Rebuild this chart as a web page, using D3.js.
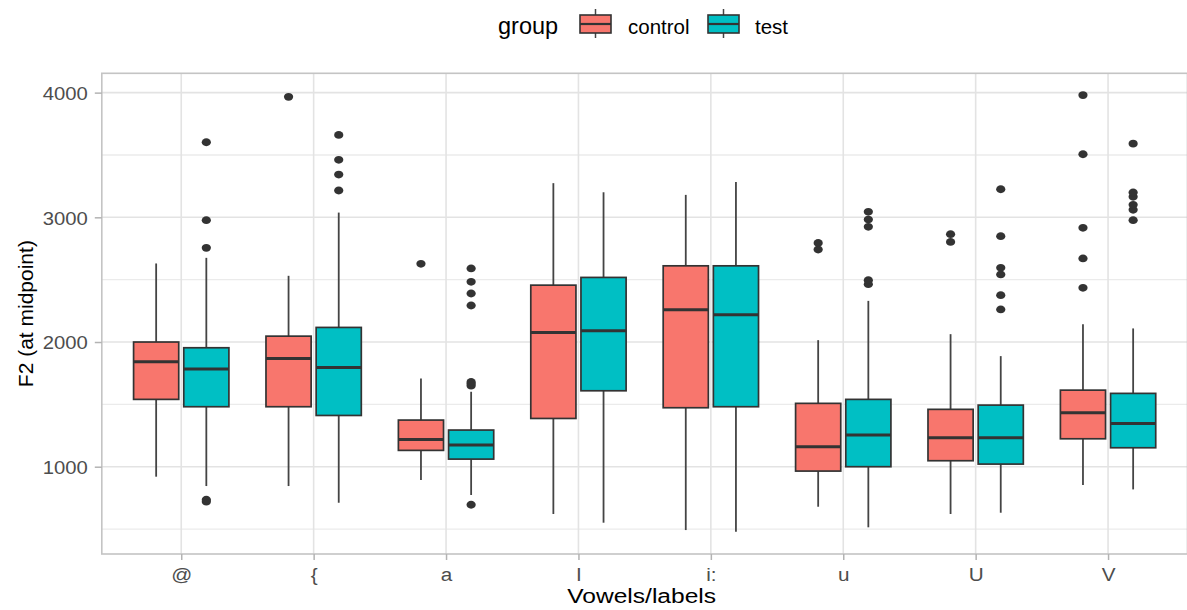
<!DOCTYPE html>
<html>
<head>
<meta charset="utf-8">
<script src="https://cdn.jsdelivr.net/npm/d3@7"></script>
<style>
  body { margin: 0; background: #fff; }
  svg { display: block; font-family: "Liberation Sans", Arial, sans-serif; }
</style>
</head>
<body>
<div id="chart"></div>
<script>
// categories and groups
const vowels = ['@', '{', 'a', 'I', 'i:', 'u', 'U', 'V'];
const groups = ['control', 'test'];
const groupColors = ['#F8766D', '#00BFC4'];

// [lower whisker, q1, median, q3, upper whisker] per vowel
const controlStats = [
  [920, 1540, 1842, 2000, 2630],
  [845, 1481, 1868, 2047, 2531],
  [893, 1131, 1219, 1374, 1708],
  [621, 1387, 2077, 2456, 3274],
  [492, 1473, 2258, 2611, 3180],
  [679, 965, 1160, 1508, 2015],
  [621, 1048, 1232, 1460, 2063],
  [853, 1224, 1433, 1614, 2143]
];
const testStats = [
  [845, 1481, 1783, 1954, 2675],
  [711, 1411, 1796, 2117, 3038],
  [773, 1061, 1174, 1294, 1601],
  [551, 1609, 2090, 2518, 3201],
  [479, 1481, 2218, 2611, 3284],
  [514, 1000, 1254, 1540, 2330],
  [631, 1021, 1232, 1494, 1887],
  [818, 1152, 1347, 1588, 2109]
];

// outliers per vowel
const controlOutliers = [
  [],
  [3966],
  [2627],
  [],
  [],
  [2742, 2795],
  [2803, 2865],
  [2435, 2670, 2916, 3506, 3980]
];
const testOutliers = [
  [720, 735, 2755, 2977, 3602],
  [3215, 3343, 3461, 3661],
  [695, 1650, 1665, 1680, 2293, 2389, 2483, 2590],
  [],
  [],
  [2464, 2496, 2924, 2982, 3044],
  [2261, 2376, 2542, 2595, 2849, 3225],
  [2977, 3060, 3100, 3165, 3200, 3591]
];

const yMajor = [1000, 2000, 3000, 4000];
const yMinor = [500, 1500, 2500, 3500];
const yDomain = [300, 4155];

const width = 1187, height = 610;
const panel = {left: 101.8, right: 1187.5, top: 73.3, bottom: 554};

const svg = d3.select('#chart').append('svg')
  .attr('width', width)
  .attr('height', height);

const x = d3.scalePoint().domain(vowels).range([panel.left, panel.right]).padding(0.6);
const dodge = d3.scaleBand().domain(groups)
  .range([-0.36 * x.step(), 0.36 * x.step()])
  .paddingInner(0.1);
const y = d3.scaleLinear().domain(yDomain).range([panel.bottom, panel.top]);
const color = d3.scaleOrdinal().domain(groups).range(groupColors);

// build rows from the arrays
let boxes = [];
vowels.forEach((v, i) => {
  [controlStats, testStats].forEach((stats, g) => {
    const s = stats[i];
    boxes.push({
      vowel: v,
      group: groups[g],
      lo: s[0], q1: s[1], med: s[2], q3: s[3], hi: s[4],
      out: (g === 0 ? controlOutliers : testOutliers)[i]
    });
  });
});

// grid
const grid = svg.append('g');
grid.selectAll('.minor').data(yMinor).enter().append('line')
  .attr('x1', panel.left).attr('x2', panel.right)
  .attr('y1', d => y(d)).attr('y2', d => y(d))
  .attr('stroke', '#ebebeb').attr('stroke-width', 1.3);
grid.selectAll('.major').data(yMajor).enter().append('line')
  .attr('x1', panel.left).attr('x2', panel.right)
  .attr('y1', d => y(d)).attr('y2', d => y(d))
  .attr('stroke', '#e3e3e3').attr('stroke-width', 1.6);
grid.selectAll('.vmajor').data(vowels).enter().append('line')
  .attr('x1', d => x(d)).attr('x2', d => x(d))
  .attr('y1', panel.top).attr('y2', panel.bottom)
  .attr('stroke', '#e3e3e3').attr('stroke-width', 1.6);

// boxes
const bw = dodge.bandwidth();
const bx = svg.selectAll('.box').data(boxes).enter().append('g')
  .attr('class', 'box')
  .attr('transform', d => 'translate(' + (x(d.vowel) + dodge(d.group)) + ',0)');

bx.append('line')
  .attr('x1', bw / 2).attr('x2', bw / 2)
  .attr('y1', d => y(d.hi)).attr('y2', d => y(d.q3))
  .attr('stroke', '#444').attr('stroke-width', 1.8);
bx.append('line')
  .attr('x1', bw / 2).attr('x2', bw / 2)
  .attr('y1', d => y(d.q1)).attr('y2', d => y(d.lo))
  .attr('stroke', '#444').attr('stroke-width', 1.8);
bx.append('rect')
  .attr('x', 0).attr('width', bw)
  .attr('y', d => y(d.q3))
  .attr('height', d => y(d.q1) - y(d.q3))
  .attr('fill', d => color(d.group))
  .attr('stroke', '#333').attr('stroke-width', 1.7);
bx.append('line')
  .attr('x1', 0).attr('x2', bw)
  .attr('y1', d => y(d.med)).attr('y2', d => y(d.med))
  .attr('stroke', '#333').attr('stroke-width', 3);
bx.selectAll('ellipse').data(d => d.out).enter().append('ellipse')
  .attr('cx', bw / 2)
  .attr('cy', d => y(d))
  .attr('rx', 4.6).attr('ry', 3.9)
  .attr('fill', '#333');

// panel border
svg.append('rect')
  .attr('x', panel.left).attr('y', panel.top)
  .attr('width', panel.right - panel.left)
  .attr('height', panel.bottom - panel.top)
  .attr('fill', 'none')
  .attr('stroke', '#c4c4c4').attr('stroke-width', 1.6);

// y axis
const yAxis = svg.append('g')
  .attr('transform', 'translate(' + panel.left + ',0)')
  .call(d3.axisLeft(y).tickValues(yMajor).tickSize(7).tickPadding(0).tickFormat(d3.format('d')));
yAxis.select('.domain').remove();
yAxis.selectAll('.tick line').attr('stroke', '#b3b3b3').attr('stroke-width', 1.5);
yAxis.selectAll('.tick text').remove();
yAxis.selectAll('.tick').append('g')
  .attr('transform', 'translate(-14,0) scale(1.09,1)')
  .append('text')
  .attr('text-anchor', 'end')
  .attr('dy', '0.36em')
  .attr('fill', '#4d4d4d')
  .style('font-size', '18.6px')
  .text(d => d);

// x axis
const xAxis = svg.append('g')
  .attr('transform', 'translate(0,' + panel.bottom + ')')
  .call(d3.axisBottom(x).tickSize(6).tickPadding(0));
xAxis.select('.domain').remove();
xAxis.selectAll('.tick line').attr('stroke', '#b3b3b3').attr('stroke-width', 1.5);
xAxis.selectAll('.tick text').remove();
xAxis.selectAll('.tick').append('g')
  .attr('transform', 'translate(0,27) scale(1.09,1)')
  .append('text')
  .attr('text-anchor', 'middle')
  .attr('fill', '#4d4d4d')
  .style('font-size', '19px')
  .text(d => d);

// axis titles
svg.append('g')
  .attr('transform', 'translate(' + ((panel.left + panel.right) / 2 - 3) + ',603) scale(1.17,1)')
  .append('text')
  .attr('text-anchor', 'middle')
  .style('font-size', '21px')
  .attr('fill', '#000')
  .text('Vowels/labels');

svg.append('text')
  .attr('transform', 'translate(33,' + ((panel.top + panel.bottom) / 2) + ') rotate(-90)')
  .attr('text-anchor', 'middle')
  .style('font-size', '21px')
  .attr('fill', '#000')
  .text('F2 (at midpoint)');

// legend
const legend = svg.append('g');
legend.append('text')
  .attr('x', 498).attr('y', 34)
  .style('font-size', '23.5px')
  .attr('fill', '#000')
  .text('group');

const keyX = [580, 708];
const labelX = [628, 755];
const keys = legend.selectAll('.key').data(groups).enter().append('g')
  .attr('class', 'key')
  .attr('transform', (d, i) => 'translate(' + keyX[i] + ',0)');
keys.append('line')
  .attr('x1', 15.5).attr('x2', 15.5).attr('y1', 9).attr('y2', 38)
  .attr('stroke', '#444').attr('stroke-width', 1.5);
keys.append('rect')
  .attr('x', 0).attr('y', 15).attr('width', 31).attr('height', 18)
  .attr('fill', d => color(d))
  .attr('stroke', '#333').attr('stroke-width', 1.6);
keys.append('line')
  .attr('x1', 0).attr('x2', 31).attr('y1', 24).attr('y2', 24)
  .attr('stroke', '#333').attr('stroke-width', 2.2);
keys.append('text')
  .attr('x', (d, i) => labelX[i] - keyX[i]).attr('y', 34)
  .style('font-size', '20.5px')
  .attr('fill', '#000')
  .text(d => d);
</script>
</body>
</html>
